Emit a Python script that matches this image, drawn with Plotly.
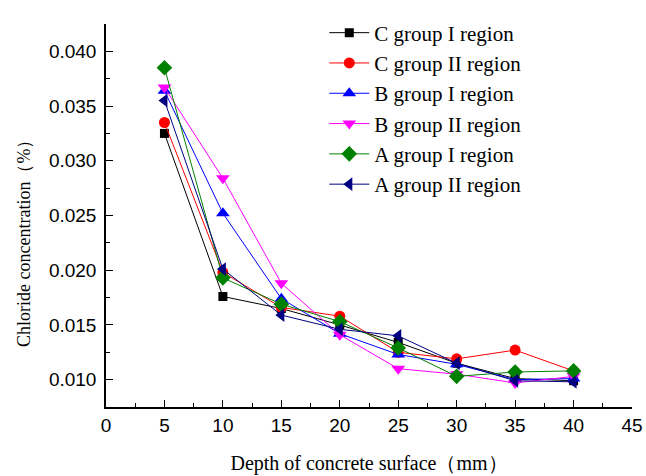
import plotly.graph_objects as go

depth = [5, 10, 15, 20, 25, 30, 35, 40]

c_group_1 = [0.0325, 0.0176, 0.0165, 0.0150, 0.0134, 0.0115, 0.0101, 0.0099]
c_group_2 = [0.0335, 0.0198, 0.0166, 0.0158, 0.0125, 0.0119, 0.0127, 0.0108]
b_group_1 = [0.0364, 0.0252, 0.0174, 0.0142, 0.0123, 0.0114, 0.0100, 0.0101]
b_group_2 = [0.0367, 0.0284, 0.0188, 0.0141, 0.0110, 0.0105, 0.0097, 0.0103]
a_group_1 = [0.0385, 0.0193, 0.0169, 0.0153, 0.0129, 0.0103, 0.0107, 0.0108]
a_group_2 = [0.0355, 0.0201, 0.0159, 0.0146, 0.0140, 0.0115, 0.0099, 0.0098]

series_names = ["C group I region", "C group II region", "B group I region",
                "B group II region", "A group I region", "A group II region"]
series_values = [c_group_1, c_group_2, b_group_1, b_group_2, a_group_1, a_group_2]
colors = ["#000000", "#FF0000", "#0000FF", "#FF00FF", "#008000", "#000080"]
symbols = ["square", "circle", "triangle-up", "triangle-down", "diamond", "triangle-left"]
sizes = [9, 11, 12, 12, 12, 12]

x_ticks = [0, 5, 10, 15, 20, 25, 30, 35, 40, 45]
y_ticks = [0.010, 0.015, 0.020, 0.025, 0.030, 0.035, 0.040]

fig = go.Figure()
for name, vals, col, sym, sz in zip(series_names, series_values, colors, symbols, sizes):
    fig.add_trace(go.Scatter(
        x=depth, y=vals, name=name, mode="lines+markers",
        line=dict(color=col, width=1),
        marker=dict(symbol=sym, size=sz, color=col, line=dict(width=0)),
    ))

tick_font = dict(family="Arial, Liberation Sans, sans-serif", size=19, color="black")
serif = "Times New Roman, Liberation Serif, serif"

fig.update_layout(
    width=646, height=476,
    margin=dict(l=106, r=14, t=18, b=69),
    paper_bgcolor="white", plot_bgcolor="white",
    showlegend=True,
    legend=dict(
        x=0.415, y=1.03, xanchor="left", yanchor="top",
        font=dict(family=serif, size=21, color="black"),
        bgcolor="rgba(0,0,0,0)", borderwidth=0,
        itemwidth=40,
    ),
    xaxis=dict(
        range=[0, 45], tickvals=x_ticks, ticktext=[str(v) for v in x_ticks],
        ticks="inside", ticklen=7, tickwidth=1, tickcolor="black",
        minor=dict(ticks="inside", ticklen=4, dtick=2.5, tick0=0, tickcolor="black"),
        showline=True, linecolor="black", linewidth=1.5,
        showgrid=False, zeroline=False, tickfont=tick_font, automargin=False,
        title=dict(text="Depth of concrete surface（mm）",
                   font=dict(family=serif, size=20, color="black"), standoff=21),
    ),
    yaxis=dict(
        range=[0.0075, 0.0425], tickvals=y_ticks, tickformat=".3f",
        ticks="inside", ticklen=7, tickwidth=1, tickcolor="black",
        minor=dict(ticks="inside", ticklen=4, dtick=0.0025, tick0=0.0075, tickcolor="black"),
        showline=True, linecolor="black", linewidth=1.5,
        showgrid=False, zeroline=False, tickfont=tick_font, automargin=False,
        ticklabelstandoff=4,
    ),
    annotations=[dict(
        text="Chloride concentration（%）", textangle=-90,
        xref="paper", yref="paper", x=-0.155, y=0.44,
        xanchor="center", yanchor="middle", showarrow=False,
        font=dict(family=serif, size=18, color="black"),
    )],
)

fig.write_html(
    "out.html",
    config={"displayModeBar": False},
    post_script="document.body.style.margin='0';document.body.style.padding='0';",
)
